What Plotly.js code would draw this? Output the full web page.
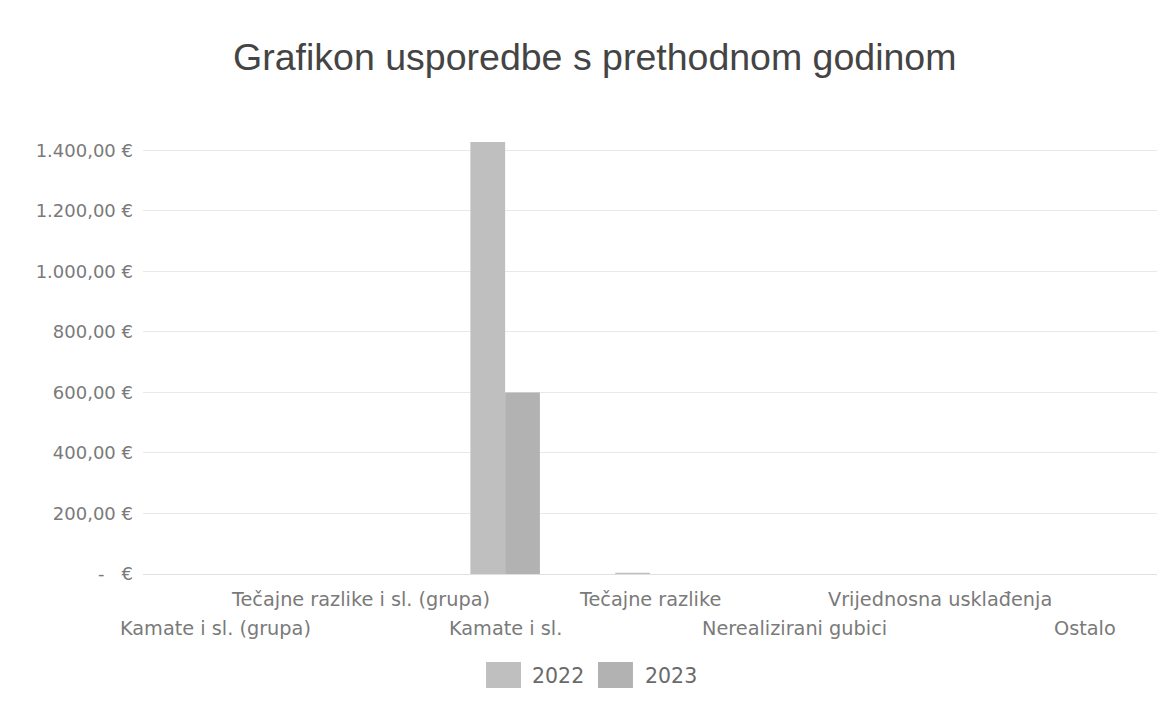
<!DOCTYPE html>
<html>
<head>
<meta charset="utf-8">
<script src="https://cdn.plot.ly/plotly-3.0.1.min.js"></script>
<style>
html,body{margin:0;padding:0;background:#fff;}
#chart{width:1164px;height:715px;}
</style>
</head>
<body>
<div id="chart"></div>
<script>
const categories = ["Kamate i sl. (grupa)", "Tečajne razlike i sl. (grupa)", "Kamate i sl.", "Tečajne razlike", "Nerealizirani gubici", "Vrijednosna usklađenja", "Ostalo"];
const values2022 = [0, 0, 1427, 4, 0, 0, 0];
const values2023 = [0, 0, 600, 0, 0, 0, 0];
const seriesNames = ["2022", "2023"];
const seriesColors = ["#bfbfbf", "#b2b2b2"];
const yTickVals = [0, 200, 400, 600, 800, 1000, 1200, 1400];
const yTickText = ["-   €", "200,00 €", "400,00 €", "600,00 €", "800,00 €", "1.000,00 €", "1.200,00 €", "1.400,00 €"];

const labelFont = {family: "DejaVu Sans, sans-serif", size: 19.3, color: "#7a7a7a"};

const traces = [
  {type: "bar", name: seriesNames[0], x: categories, y: values2022, marker: {color: seriesColors[0]}},
  {type: "bar", name: seriesNames[1], x: categories, y: values2023, marker: {color: seriesColors[1]}}
];

const annotations = categories.map((c, i) => ({
  x: c, xref: "x", y: 0, yref: "paper",
  yanchor: "middle", xanchor: "center",
  yshift: (i % 2 === 1) ? -25 : -54,
  text: c, showarrow: false, font: labelFont
}));

// custom legend (large swatches like the original)
const legX = [[0.3383, 0.3728, 0.3817], [0.4487, 0.4832, 0.4931]];
const shapes = [];
seriesNames.forEach((n, i) => {
  shapes.push({type: "rect", xref: "paper", yref: "paper", x0: legX[i][0], x1: legX[i][1], y0: -0.2545, y1: -0.1964,
    fillcolor: seriesColors[i], line: {width: 0}});
  annotations.push({xref: "paper", yref: "paper", x: legX[i][2], y: -0.2277, xanchor: "left", yanchor: "middle",
    text: n, showarrow: false, font: {family: "DejaVu Sans, sans-serif", size: 20.5, color: "#6a6a6a"}});
});

const layout = {
  width: 1164, height: 715,
  margin: {l: 143, r: 7, t: 126, b: 141, autoexpand: false},
  paper_bgcolor: "#ffffff", plot_bgcolor: "#ffffff",
  showlegend: false,
  title: {text: "Grafikon usporedbe s prethodnom godinom", xref: "container", x: 0.511, xanchor: "center", yref: "container", y: 1 - 57/715, yanchor: "middle",
    font: {family: "Liberation Sans, Arial, sans-serif", size: 37.5, color: "#444"}},
  barmode: "group", bargap: 0.52, bargroupgap: 0,
  xaxis: {type: "category", range: [-0.5, categories.length - 0.5], autorange: false, automargin: false, showticklabels: false, showgrid: false, zeroline: false, showline: false, ticks: ""},
  yaxis: {range: [0, 1480], automargin: false, tickvals: yTickVals, ticktext: yTickText, showgrid: true, gridcolor: "#e8e8e8", gridwidth: 1,
    zeroline: true, zerolinecolor: "#e0e0e0", showline: false, ticks: "", ticklabelstandoff: 9,
    tickfont: {family: "DejaVu Sans, sans-serif", size: 18, color: "#7a7a7a"}},
  annotations: annotations,
  shapes: shapes
};

Plotly.newPlot("chart", traces, layout, {displayModeBar: false, staticPlot: true});
</script>
</body>
</html>
